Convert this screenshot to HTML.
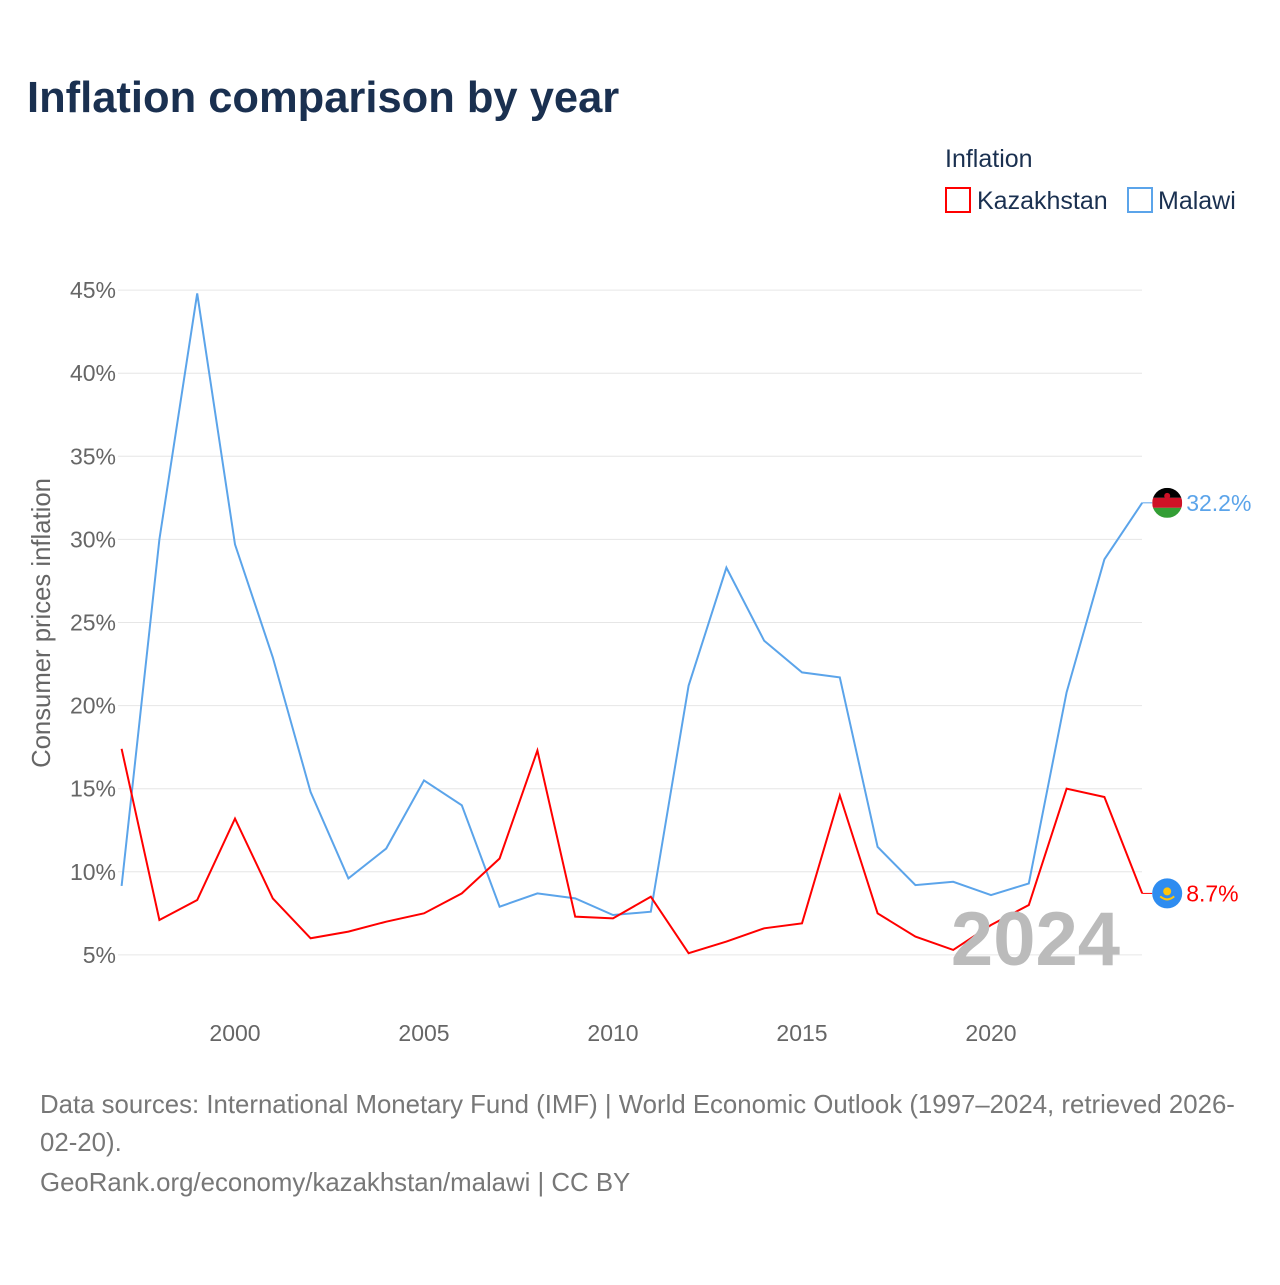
<!DOCTYPE html>
<html><head><meta charset="utf-8">
<style>
body{margin:0;background:#fff;font-family:"Liberation Sans",sans-serif;}
svg text{font-family:"Liberation Sans",sans-serif;}
</style></head>
<body>
<svg id="chart" width="1280" height="1280">
<text x="27" y="112" font-size="43.5" font-weight="bold" fill="#1a3050">Inflation comparison by year</text>
<text x="945" y="167" font-size="25" fill="#1a3050">Inflation</text>
<g><rect x="946" y="188" width="24" height="24" fill="none" stroke="#ff0000" stroke-width="2"/><text x="977" y="209" font-size="25" fill="#1a3050">Kazakhstan</text></g>
<g><rect x="1128" y="188" width="24" height="24" fill="none" stroke="#5ba4ea" stroke-width="2"/><text x="1158" y="209" font-size="25" fill="#1a3050">Malawi</text></g>
<g id="grid"></g><g id="xaxis"></g><g id="series"></g>
<text x="1120" y="965" font-size="76" font-weight="bold" fill="#bbbbbb" text-anchor="end">2024</text>
<text transform="translate(50,623) rotate(-90)" font-size="25.7" fill="#666" text-anchor="middle">Consumer prices inflation</text>
<text x="40" y="1113" font-size="25.8" fill="#777">Data sources: International Monetary Fund (IMF) | World Economic Outlook (1997–2024, retrieved 2026-</text>
<text x="40" y="1151" font-size="25.8" fill="#777">02-20).</text>
<text x="40" y="1191" font-size="25.8" fill="#777">GeoRank.org/economy/kazakhstan/malawi | CC BY</text>
</svg>
<script>
const years=[1997,1998,1999,2000,2001,2002,2003,2004,2005,2006,2007,2008,2009,2010,2011,2012,2013,2014,2015,2016,2017,2018,2019,2020,2021,2022,2023,2024];
const malawi=[9.15,30.0,44.8,29.7,22.9,14.8,9.6,11.4,15.5,14.0,7.9,8.7,8.4,7.4,7.6,21.2,28.3,23.9,22.0,21.7,11.5,9.2,9.4,8.6,9.3,20.8,28.8,32.2];
const kazakhstan=[17.4,7.1,8.3,13.2,8.4,6.0,6.4,7.0,7.5,8.7,10.8,17.3,7.3,7.2,8.5,5.1,5.8,6.6,6.9,14.6,7.5,6.1,5.3,6.8,8.0,15.0,14.5,8.7];
const yTicks=[5,10,15,20,25,30,35,40,45];
const xTicks=[2000,2005,2010,2015,2020];
const NS="http://www.w3.org/2000/svg";
const x=v=>121.6+(v-1997)*37.8;
const y=v=>1038-v*16.62;
function mk(tag,attrs,parent){const e=document.createElementNS(NS,tag);for(const k in attrs)e.setAttribute(k,attrs[k]);parent.appendChild(e);return e;}
const grid=document.getElementById('grid');
yTicks.forEach(t=>{
 const l=mk('line',{x1:118,x2:1142,y1:y(t),y2:y(t),stroke:'#e6e6e6','stroke-width':1},grid);
 
 
 const tx=mk('text',{x:116,y:y(t)+8,'font-size':23,fill:'#666','text-anchor':'end'},grid);
 tx.textContent=t+'%';
 
 
});
const xa=document.getElementById('xaxis');
xTicks.forEach(t=>{
 const tx=mk('text',{x:x(t),y:1041,'font-size':23,fill:'#666','text-anchor':'middle'},xa);
 tx.textContent=t;
 
 
});
const sg=document.getElementById('series');
function line(vals,color,name){
 const p=mk('polyline',{points:vals.map((v,i)=>x(years[i])+','+y(v)).join(' '),fill:'none',stroke:color,'stroke-width':2},sg);
 
 
 const last=vals[vals.length-1];
 mk('line',{x1:x(2024),x2:x(2024)+10,y1:y(last),y2:y(last),stroke:color,'stroke-width':1},sg);
 const t=mk('text',{x:x(2024)+44,y:y(last)+8,'font-size':23,fill:color},sg);
 t.textContent=last+'%';
 
 
}
line(malawi,'#5ba4ea','malawi');
line(kazakhstan,'#ff0000','kazakhstan');
const mw=y(malawi[malawi.length-1]), kz=y(kazakhstan[kazakhstan.length-1]), fx=x(2024)+25;
const f1=mk('g',{},sg);


mk('clipPath',{id:'c1'},f1);
mk('circle',{cx:fx,cy:mw,r:15},f1.firstChild);
const gg=mk('g',{'clip-path':'url(#c1)'},f1);
mk('rect',{x:fx-15,y:mw-15,width:30,height:10,fill:'#000'},gg);
mk('rect',{x:fx-15,y:mw-5,width:30,height:10,fill:'#ce1126'},gg);
mk('rect',{x:fx-15,y:mw+5,width:30,height:10,fill:'#339e35'},gg);
mk('circle',{cx:fx,cy:mw-7,r:3,fill:'#ce1126'},gg);
const f2=mk('g',{},sg);


mk('circle',{cx:fx,cy:kz,r:15,fill:'#2e8cf0'},f2);
mk('circle',{cx:fx,cy:kz-2,r:4,fill:'#fec50c'},f2);
mk('path',{d:`M${fx-7} ${kz+3} Q${fx} ${kz+9} ${fx+7} ${kz+3}`,stroke:'#fec50c','stroke-width':2,fill:'none'},f2);
</script>
</body></html>
